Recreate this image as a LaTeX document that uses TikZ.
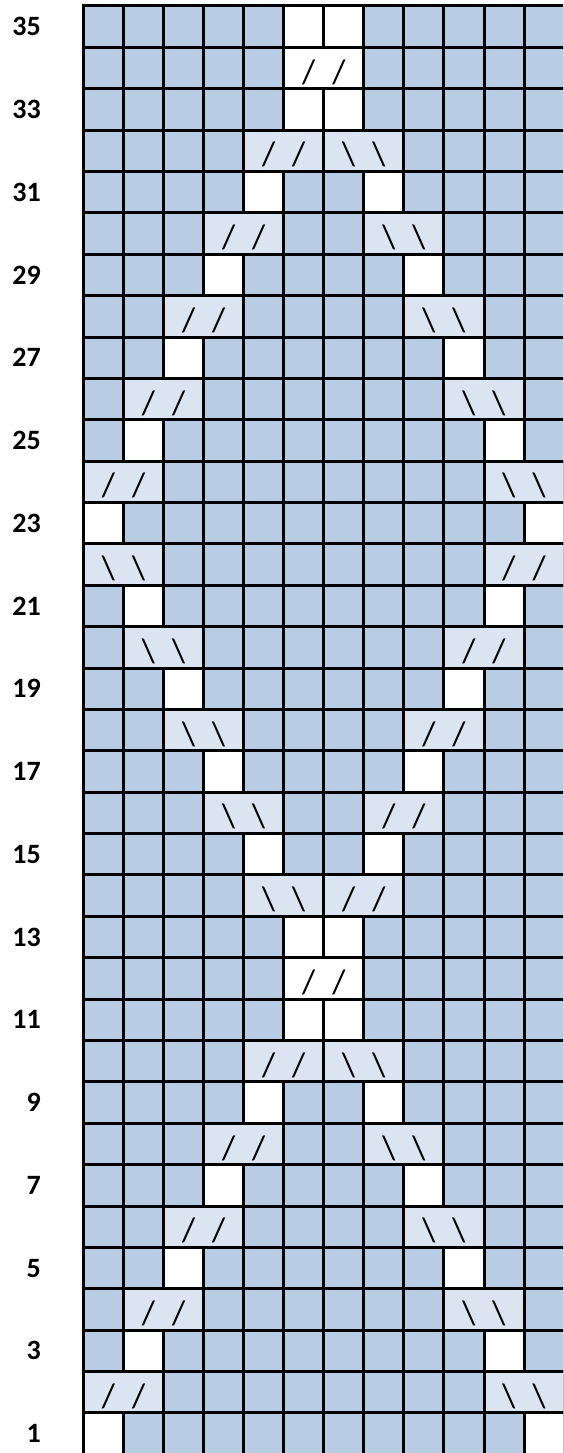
\documentclass[tikz,border=0pt]{standalone}
\usepackage{fontspec}
\setmainfont{Carlito}
\definecolor{cellblue}{HTML}{B8CCE4}
\definecolor{spanblue}{HTML}{DBE5F1}
\newcommand\slF{/\hspace{17pt}/}
\newcommand\slB{\textbackslash\hspace{17pt}\textbackslash}
\begin{document}
\begin{tikzpicture}[x=1pt,y=1pt,
  cellbox/.style={line width=3pt,draw=black,fill=cellblue},
  whitebox/.style={line width=3pt,draw=black,fill=white},
  spanbox/.style={line width=3pt,draw=black},
  rowlab/.style={anchor=east,inner sep=0pt,font=\fontsize{28}{30}\selectfont\bfseries},
  slashtxt/.style={inner sep=0pt,font=\fontsize{34}{36}\selectfont}]
\useasboundingbox (0,0) rectangle (563,1453);
\clip (0,0) rectangle (563,1453);
% base grid
\foreach \r in {1,...,35}{
  \foreach \c in {1,...,12}{
    \pgfmathsetmacro\xl{83.5+(\c-1)*40.05}
    \pgfmathsetmacro\yt{1447-(35-\r)*41.38}
    \path[cellbox] (\xl,\yt) rectangle ++(40.05,-41.38);
  }
}
% white cells in odd rows
\foreach \r/\a/\b in {1/1/12,3/2/11,5/3/10,7/4/9,9/5/8,11/6/7,13/6/7,15/5/8,17/4/9,19/3/10,21/2/11,23/1/12,25/2/11,27/3/10,29/4/9,31/5/8,33/6/7,35/6/7}{
  \pgfmathsetmacro\yt{1447-(35-\r)*41.38}
  \pgfmathsetmacro\xa{83.5+(\a-1)*40.05}
  \pgfmathsetmacro\xb{83.5+(\b-1)*40.05}
  \path[whitebox] (\xa,\yt) rectangle ++(40.05,-41.38);
  \path[whitebox] (\xb,\yt) rectangle ++(40.05,-41.38);
}
% merged two-cell spans in even rows
\foreach \r/\c/\t/\f in {2/1/\slF/spanblue,2/11/\slB/spanblue,
  4/2/\slF/spanblue,4/10/\slB/spanblue,
  6/3/\slF/spanblue,6/9/\slB/spanblue,
  8/4/\slF/spanblue,8/8/\slB/spanblue,
  10/5/\slF/spanblue,10/7/\slB/spanblue,
  12/6/\slF/white,
  14/5/\slB/spanblue,14/7/\slF/spanblue,
  16/4/\slB/spanblue,16/8/\slF/spanblue,
  18/3/\slB/spanblue,18/9/\slF/spanblue,
  20/2/\slB/spanblue,20/10/\slF/spanblue,
  22/1/\slB/spanblue,22/11/\slF/spanblue,
  24/1/\slF/spanblue,24/11/\slB/spanblue,
  26/2/\slF/spanblue,26/10/\slB/spanblue,
  28/3/\slF/spanblue,28/9/\slB/spanblue,
  30/4/\slF/spanblue,30/8/\slB/spanblue,
  32/5/\slF/spanblue,32/7/\slB/spanblue,
  34/6/\slF/white}{
  \pgfmathsetmacro\yt{1447-(35-\r)*41.38}
  \pgfmathsetmacro\xl{83.5+(\c-1)*40.05}
  \path[spanbox,fill=\f] (\xl,\yt) rectangle ++(80.1,-41.38);
  \node[slashtxt] (S\r-\c) at (\xl+40.05,\yt-24.7) {\t};
}
% row labels
\foreach \r in {1,3,...,35}{
  \pgfmathsetmacro\yc{1447-(35-\r)*41.38-20.69}
  \node[rowlab] (L\r) at (41,\yc) {\r};
}
\end{tikzpicture}
\end{document}
